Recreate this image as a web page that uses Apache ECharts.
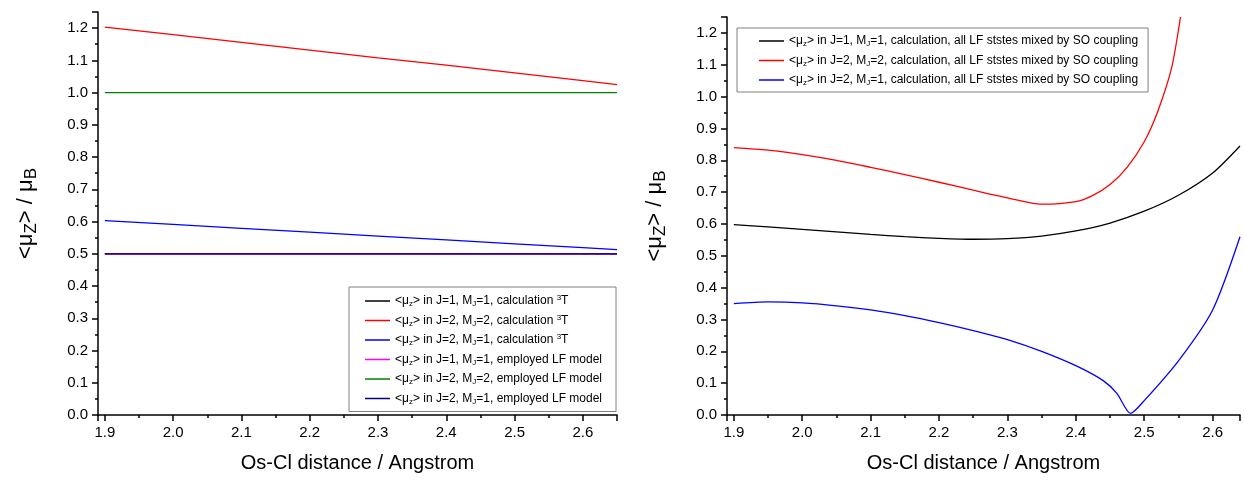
<!DOCTYPE html>
<html>
<head>
<meta charset="utf-8">
<script src="https://cdn.jsdelivr.net/npm/echarts@6/dist/echarts.min.js"></script>
<style>
html,body{margin:0;padding:0;background:#fff;}
#chart{width:1244px;height:483px;}
</style>
</head>
<body>
<div id="chart"></div>
<script>
// left panel: 3T calculation vs employed LF model
var xLeft = [1.9, 2.0, 2.1, 2.2, 2.3, 2.4, 2.5, 2.6, 2.65];
var leftBlack = [0.5, 0.5, 0.5, 0.5, 0.5, 0.5, 0.5, 0.5, 0.5];
var leftRed = [1.203, 1.180, 1.156, 1.132, 1.108, 1.085, 1.061, 1.037, 1.025];
var leftBlue = [0.603, 0.591, 0.579, 0.567, 0.555, 0.543, 0.531, 0.519, 0.513];
var leftMagenta = [0.5, 0.5, 0.5, 0.5, 0.5, 0.5, 0.5, 0.5, 0.5];
var leftGreen = [1.0, 1.0, 1.0, 1.0, 1.0, 1.0, 1.0, 1.0, 1.0];
var leftNavy = [0.5, 0.5, 0.5, 0.5, 0.5, 0.5, 0.5, 0.5, 0.5];

// right panel: all LF states mixed by SO coupling
var xRightBlack = [1.9, 1.95, 2.0, 2.05, 2.1, 2.15, 2.2, 2.25, 2.3, 2.35, 2.4, 2.45, 2.5, 2.55, 2.6, 2.64];
var rightBlack = [0.598, 0.591, 0.583, 0.575, 0.567, 0.560, 0.555, 0.552, 0.554, 0.562, 0.578, 0.603, 0.640, 0.690, 0.760, 0.845];
var xRightRed = [1.9, 1.95, 2.0, 2.05, 2.1, 2.15, 2.2, 2.25, 2.3, 2.35, 2.4, 2.425, 2.45, 2.475, 2.5, 2.52, 2.54, 2.553];
var rightRed = [0.840, 0.832, 0.818, 0.800, 0.778, 0.755, 0.731, 0.706, 0.682, 0.662, 0.670, 0.690, 0.724, 0.778, 0.858, 0.955, 1.090, 1.250];
var xRightBlue = [1.9, 1.95, 2.0, 2.05, 2.1, 2.15, 2.2, 2.25, 2.3, 2.35, 2.4, 2.44, 2.46, 2.48, 2.5, 2.55, 2.6, 2.64];
var rightBlue = [0.350, 0.355, 0.352, 0.343, 0.330, 0.312, 0.290, 0.265, 0.237, 0.200, 0.155, 0.108, 0.068, 0.005, 0.045, 0.170, 0.330, 0.560];

var leftNames = [
	'<{s|μ}{sub|z}{s|> in J=1, M}{sub|J}{s|=1, calculation }{sup|3}{s|T}',
	'<{s|μ}{sub|z}{s|> in J=2, M}{sub|J}{s|=2, calculation }{sup|3}{s|T}',
	'<{s|μ}{sub|z}{s|> in J=2, M}{sub|J}{s|=1, calculation }{sup|3}{s|T}',
	'<{s|μ}{sub|z}{s|> in J=1, M}{sub|J}{s|=1, employed LF model}',
	'<{s|μ}{sub|z}{s|> in J=2, M}{sub|J}{s|=2, employed LF model}',
	'<{s|μ}{sub|z}{s|> in J=2, M}{sub|J}{s|=1, employed LF model}'
];
var rightNames = [
	'<{s|μ}{sub|z}{s|> in J=1, M}{sub|J}{s|=1, calculation, all LF ststes mixed by SO coupling}',
	'<{s|μ}{sub|z}{s|> in J=2, M}{sub|J}{s|=2, calculation, all LF ststes mixed by SO coupling}',
	'<{s|μ}{sub|z}{s|> in J=2, M}{sub|J}{s|=1, calculation, all LF ststes mixed by SO coupling}'
];
var leftColors = ['#000000', '#ff0000', '#0000ff', '#ff00ff', '#008000', '#000080'];
var rightColors = ['#000000', '#ff0000', '#0000ff'];

function pairs(xs, ys){
	var out = [];
	for (var i = 0; i < xs.length; i++) out.push([xs[i], ys[i]]);
	return out;
}

var FONT = 'Liberation Sans, Arial, sans-serif';
var legendRich = {
	s: {fontSize: 12, fontFamily: FONT, color: '#000', lineHeight: 14},
	sub: {fontSize: 8, fontFamily: FONT, color: '#000', lineHeight: 14, verticalAlign: 'bottom', padding: [6, 0, 0, 0]},
	sup: {fontSize: 8, fontFamily: FONT, color: '#000', lineHeight: 14, verticalAlign: 'top', padding: [0, 0, 5, 0]}
};
var nameRich = {
	t: {fontSize: 22, fontFamily: FONT, color: '#000'},
	sb: {fontSize: 17, fontFamily: FONT, color: '#000', padding: [11, 0, 0, 0]}
};

function xAxisOf(idx, min, max){
	return {
		type: 'value', gridIndex: idx, min: min, max: max, splitNumber: 8,
		name: 'Os-Cl distance / Angstrom', nameLocation: 'middle', nameGap: 38,
		nameTextStyle: {fontSize: 20, fontFamily: FONT, color: '#000'},
		axisLine: {show: true, onZero: false, lineStyle: {color: '#000', width: 1.5}},
		axisTick: {show: true, length: 6, lineStyle: {color: '#000', width: 1.5}},
		minorTick: {show: true, splitNumber: 2, length: 3, lineStyle: {color: '#000', width: 1.5}},
		axisLabel: {fontSize: 15, fontFamily: FONT, color: '#000', margin: 10, showMinLabel: false, showMaxLabel: false,
			formatter: function(v){ return v.toFixed(1); }},
		splitLine: {show: false}
	};
}
function yAxisOf(idx){
	return {
		type: 'value', gridIndex: idx, min: 0, max: 1.25, interval: 0.1,
		name: '{t|<μ}{sb|Z}{t|> / μ}{sb|B}', nameLocation: 'middle', nameGap: 58, nameRotate: 90,
		nameTextStyle: {rich: nameRich},
		axisLine: {show: true, onZero: false, lineStyle: {color: '#000', width: 1.5}},
		axisTick: {show: true, length: 6, lineStyle: {color: '#000', width: 1.5}},
		minorTick: {show: true, splitNumber: 2, length: 3, lineStyle: {color: '#000', width: 1.5}},
		axisLabel: {fontSize: 15, fontFamily: FONT, color: '#000', margin: 10, showMaxLabel: false,
			formatter: function(v){ return v.toFixed(1); }},
		splitLine: {show: false}
	};
}

var series = [];
var leftData = [leftBlack, leftRed, leftBlue, leftMagenta, leftGreen, leftNavy];
for (var i = 0; i < leftData.length; i++) {
	series.push({
		name: leftNames[i], type: 'line', xAxisIndex: 0, yAxisIndex: 0,
		data: pairs(xLeft, leftData[i]), showSymbol: false, symbol: 'none',
		lineStyle: {color: leftColors[i], width: 1.3}, itemStyle: {color: leftColors[i]}
	});
}
var rightX = [xRightBlack, xRightRed, xRightBlue];
var rightData = [rightBlack, rightRed, rightBlue];
for (var j = 0; j < rightData.length; j++) {
	series.push({
		name: rightNames[j], type: 'line', xAxisIndex: 1, yAxisIndex: 1,
		data: pairs(rightX[j], rightData[j]), showSymbol: false, symbol: 'none', smooth: 0.25,
		lineStyle: {color: rightColors[j], width: 1.3}, itemStyle: {color: rightColors[j]}
	});
}

function legendOf(names, left, top, pad){
	return {
		orient: 'vertical', left: left, top: top, data: names,
		icon: 'rect', itemWidth: 25, itemHeight: 1.5, itemGap: 5.5,
		padding: pad, backgroundColor: '#fff', borderColor: '#808080', borderWidth: 1,
		textStyle: {rich: legendRich, color: '#000', fontSize: 12}, selectedMode: false
	};
}

var chart = echarts.init(document.getElementById('chart'), null, {renderer: 'canvas'});
chart.setOption({
	backgroundColor: '#fff',
	animation: false,
	grid: [
		{left: 98, right: 627, top: 12, bottom: 68},
		{left: 727, right: 4, top: 17, bottom: 68}
	],
	xAxis: [xAxisOf(0, 1.89, 2.65), xAxisOf(1, 1.89, 2.64)],
	yAxis: [yAxisOf(0), yAxisOf(1)],
	legend: [
		legendOf(leftNames, 349, 287, [7, 14, 6, 16]),
		legendOf(rightNames, 737, 28, [6, 10, 5, 22])
	],
	series: series
});
</script>
</body>
</html>
